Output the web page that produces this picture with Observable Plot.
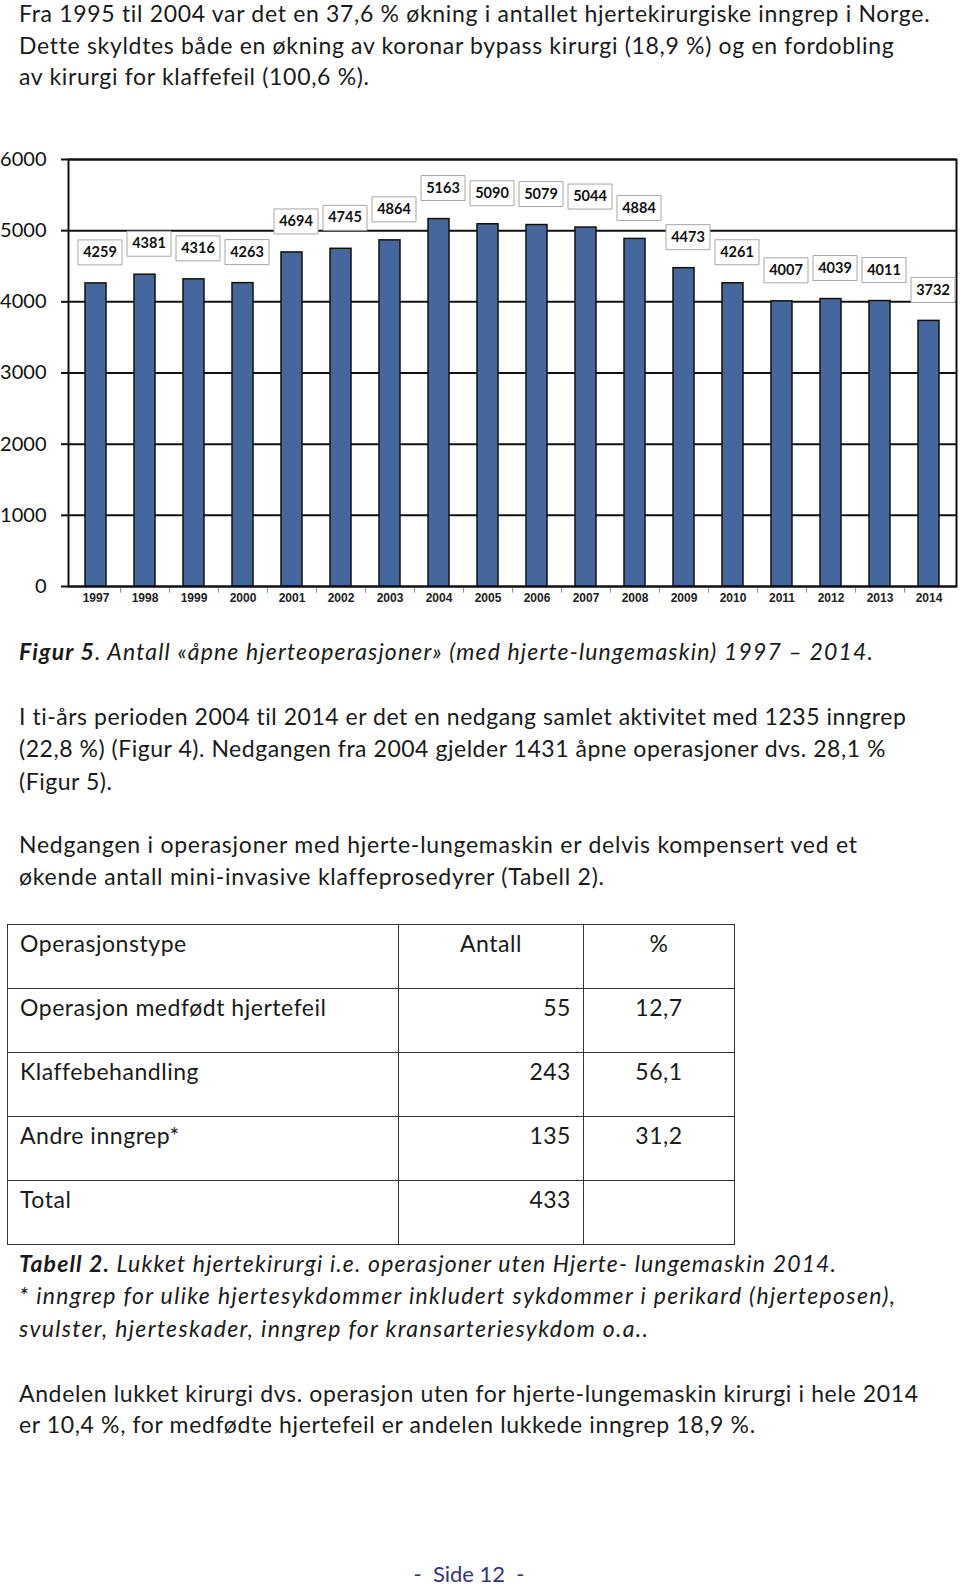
<!DOCTYPE html>
<html>
<head>
<meta charset="utf-8">
<script src="https://cdn.jsdelivr.net/npm/d3@7"></script>
<script src="https://cdn.jsdelivr.net/npm/@observablehq/plot@0.6"></script>
<style>
  html, body { margin: 0; padding: 0; background: #fff; }
  #page { position: relative; width: 960px; height: 1588px; overflow: hidden; font-family: Lato, "Open Sans", sans-serif; color: #1a1a1a; }
  .line { position: absolute; left: 19px; height: 26px; line-height: 26px; font-size: 23px; white-space: nowrap; }
  .cap { font-style: italic; }
  #chart { position: absolute; left: 0; top: 140px; }
  table { position: absolute; left: 7px; top: 924px; border-collapse: collapse; font-size: 23px; }
  td { border: 1.5px solid #333; height: 61px; vertical-align: top; padding: 2px 12px 0 12px; line-height: 32px; white-space: nowrap; }
  td.c0 { width: 366px; }
  td.c1 { width: 160px; text-align: right; }
  td.c2 { width: 126px; text-align: center; }
  #pnum { position: absolute; left: 0; width: 938px; text-align: center; top: 1560px; font-size: 22px; color: #34357a; line-height: 28px; white-space: pre; }
</style>
</head>
<body>
<div id="page"></div>
<script>
// ---- data ----
const years = ["1997","1998","1999","2000","2001","2002","2003","2004","2005","2006","2007","2008","2009","2010","2011","2012","2013","2014"];
const counts = [4259,4381,4316,4263,4694,4745,4864,5163,5090,5079,5044,4884,4473,4261,4007,4039,4011,3732];
const yTicks = [0,1000,2000,3000,4000,5000,6000];

const tableHeader = ["Operasjonstype","Antall","%"];
const opTypes = ["Operasjon medfødt hjertefeil","Klaffebehandling","Andre inngrep*","Total"];
const opCounts = ["55","243","135","433"];
const opPercents = ["12,7","56,1","31,2",""];

const introLines = [
  "Fra 1995 til 2004 var det en 37,6 % økning i antallet hjertekirurgiske inngrep i Norge.",
  "Dette skyldtes både en økning av koronar bypass kirurgi (18,9 %) og en fordobling",
  "av kirurgi for klaffefeil (100,6 %)."
];
const figCaptionBold = "Figur 5";
const figCaptionRest = ". Antall «åpne hjerteoperasjoner» (med hjerte-lungemaskin) 1997 – 2014.";
const para1 = [
  "I ti-års perioden 2004 til 2014 er det en nedgang samlet aktivitet med 1235 inngrep",
  "(22,8 %) (Figur 4). Nedgangen fra 2004 gjelder 1431 åpne operasjoner dvs. 28,1 %",
  "(Figur 5)."
];
const para2 = [
  "Nedgangen i operasjoner med hjerte-lungemaskin er delvis kompensert ved et",
  "økende antall mini-invasive klaffeprosedyrer (Tabell 2)."
];
const tabCaptionBold = "Tabell 2.";
const tabCaptionRest = " Lukket hjertekirurgi i.e. operasjoner uten Hjerte- lungemaskin 2014.";
const tabNotes = [
  "* inngrep for ulike hjertesykdommer inkludert sykdommer i perikard (hjerteposen),",
  "svulster, hjerteskader, inngrep for kransarteriesykdom o.a.."
];
const para3 = [
  "Andelen lukket kirurgi dvs. operasjon uten for hjerte-lungemaskin kirurgi i hele 2014",
  "er 10,4 %, for medfødte hjertefeil er andelen lukkede inngrep 18,9 %."
];
const pageNumber = "-  Side 12  -";

// ---- page ----
const page = document.getElementById("page");
function addLine(text, centerY, cls) {
  const d = document.createElement("div");
  d.className = "line" + (cls ? " " + cls : "");
  d.style.top = Math.max(0, centerY - 13) + "px";
  d.textContent = text;
  page.appendChild(d);
  return d;
}
// fit a block: the first line should end at targetRight; others share its letter spacing
function fitBlock(els, targetRight) {
  const first = els[0];
  const w = first.getBoundingClientRect().width;
  const n = first.textContent.length;
  const ls = (targetRight - 19 - w) / Math.max(1, n - 1);
  els.forEach(e => e.style.letterSpacing = ls + "px");
  return ls;
}
function addLines(lines, startY, step, targetRight, cls) {
  const els = lines.map((t, i) => addLine(t, startY + i * step, cls));
  return fitBlock(els, targetRight);
}
addLines(introLines, 13, 31.5, 930);

// chart
const data = years.map((y, i) => ({year: y, count: counts[i]}));
const labelBox = { draw(ctx) { ctx.rect(-22, -12.5, 44, 25); } };
const chart = Plot.plot({
  width: 960,
  height: 480,
  marginLeft: 68,
  marginRight: 4,
  marginTop: 19,
  marginBottom: 34,
  style: { fontFamily: "Lato, sans-serif", background: "transparent", color: "#111", overflow: "visible" },
  x: { domain: years, paddingInner: 0.58, paddingOuter: 0.297, label: null },
  y: { domain: [0, 6000], label: null },
  marks: [
    Plot.gridY(yTicks, { stroke: "#111", strokeOpacity: 1, strokeWidth: 2 }),
    Plot.ruleX(years.slice(0, -1), { x: d => d, dx: 24.6, y1: 0, y2: -95, stroke: "#888", strokeWidth: 1 }),
    Plot.barY(data, { x: "year", y: "count", fill: "#44689e", stroke: "#111", strokeWidth: 1.5 }),
    Plot.axisY(yTicks, { tickSize: 7, tickPadding: 15, fontSize: 20, tickFormat: d3.format("d"), stroke: "#111", strokeWidth: 2, fill: "#111" }),
    Plot.axisX({ tickSize: 0, tickPadding: 7, fontSize: 12, fontWeight: "bold", fontFamily: "Liberation Sans, Arial, sans-serif", fill: "#222" }),
    Plot.frame({ stroke: "#111", strokeWidth: 2 }),
    Plot.dot(data, { x: "year", y: "count", symbol: labelBox, r: 10, fill: "white", stroke: "#a6a6a6", strokeWidth: 1, dx: 4, dy: -31 }),
    Plot.text(data, { x: "year", y: "count", text: d => String(d.count), dx: 4, dy: -31, fontSize: 14.5, fontWeight: "bold", fill: "#111" })
  ]
});
chart.id = "chart";
page.appendChild(chart);

// figure caption
const fc = addLine("", 651, "cap");
const fb = document.createElement("b"); fb.textContent = figCaptionBold;
fc.appendChild(fb);
fc.appendChild(document.createTextNode(figCaptionRest));
fitBlock([fc], 873);

const bodyLs = addLines(para1, 716, 32.4, 907);
addLines(para2, 844, 32.4, 857);

// table
const table = document.createElement("table");
const rows = [tableHeader].concat(opTypes.map((t, i) => [t, opCounts[i], opPercents[i]]));
rows.forEach((r, ri) => {
  const tr = document.createElement("tr");
  r.forEach((c, ci) => {
    const td = document.createElement("td");
    td.className = "c" + ci;
    if (ri === 0 && ci === 1) td.style.textAlign = "center";
    td.textContent = c;
    tr.appendChild(td);
  });
  table.appendChild(tr);
});
table.style.letterSpacing = bodyLs + "px";
page.appendChild(table);

const tc = addLine("", 1263, "cap");
const tb = document.createElement("b"); tb.textContent = tabCaptionBold;
tc.appendChild(tb);
tc.appendChild(document.createTextNode(tabCaptionRest));
fitBlock([tc], 836);
addLines(tabNotes, 1295, 32.5, 895, "cap");

addLines(para3, 1392.5, 31.5, 918);

const pn = document.createElement("div");
pn.id = "pnum";
pn.textContent = pageNumber;
page.appendChild(pn);
</script>
</body>
</html>
